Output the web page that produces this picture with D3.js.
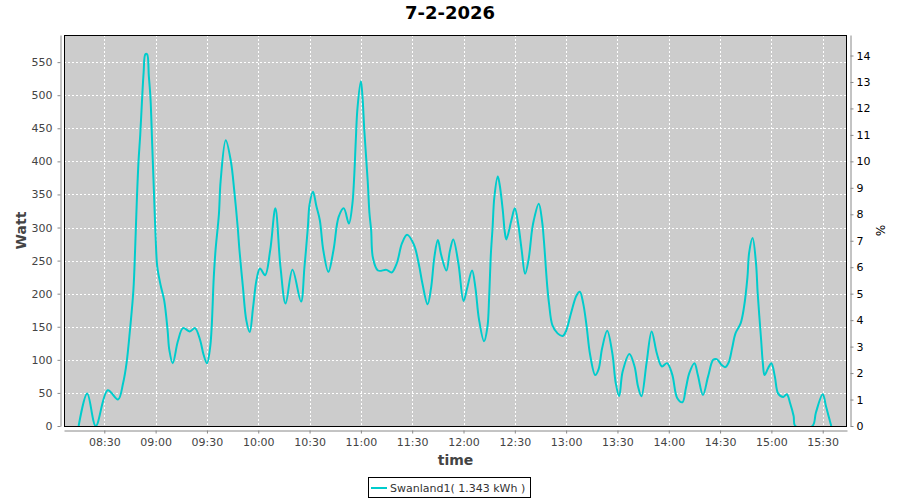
<!DOCTYPE html>
<html>
<head>
<meta charset="utf-8">
<script src="https://cdn.jsdelivr.net/npm/d3@7/dist/d3.min.js"></script>
<style>
  html, body { margin: 0; padding: 0; background: #ffffff; }
  svg { display: block; font-family: "DejaVu Sans", sans-serif; }
</style>
</head>
<body>
<svg id="chart" width="900" height="500"></svg>
<script>
// ---- data ----
const chartTitle = "7-2-2026";
const seriesName = "Swanland1( 1.343 kWh )";
const times = [
  "08:15","08:20","08:25","08:32","08:38","08:41","08:43","08:45","08:47","08:48",
  "08:49","08:50","08:51","08:52","08:53","08:54","08:55","08:56","08:57","08:58",
  "08:59","09:00","09:01","09:03","09:05","09:07","09:08","09:10","09:13","09:16",
  "09:20","09:23","09:26","09:28","09:30","09:32","09:34","09:35","09:37","09:38",
  "09:41","09:44","09:46","09:48","09:49","09:51","09:53","09:55","09:57","09:59",
  "10:01","10:04","10:07","10:10","10:13","10:16","10:20","10:25","10:27","10:29",
  "10:30","10:32","10:34","10:36","10:38","10:41","10:44","10:47","10:50","10:53",
  "10:55","10:56","10:57","10:58","11:00","11:01","11:02","11:04","11:05","11:06",
  "11:07","11:10","11:15","11:18","11:21","11:24","11:27","11:31","11:34","11:36",
  "11:39","11:41","11:43","11:45","11:47","11:50","11:52","11:54","11:57","12:00",
  "12:02","12:05","12:07","12:09","12:12","12:14","12:15","12:16","12:17","12:18",
  "12:20","12:21","12:23","12:24","12:25","12:28","12:30","12:32","12:34","12:36",
  "12:38","12:40","12:41","12:44","12:46","12:47","12:49","12:50","12:52","12:55",
  "12:58","13:00","13:03","13:06","13:08","13:10","13:12","13:14","13:17","13:19",
  "13:21","13:24","13:27","13:29","13:31","13:33","13:37","13:40","13:42","13:44",
  "13:47","13:50","13:53","13:56","13:59","14:02","14:05","14:08","14:10","14:12",
  "14:15","14:17","14:20","14:23","14:26","14:28","14:31","14:33","14:35","14:37",
  "14:39","14:42","14:44","14:46","14:47","14:49","14:51","14:52","14:54","14:55",
  "14:56","14:58","15:00","15:02","15:04","15:07","15:09","15:11","15:13","15:14",
  "15:24","15:26","15:30","15:32","15:35"
];
const watts = [
  0,49,0,54,40,65,95,145,205,266,
  340,400,440,490,535,562,562,530,495,425,
  355,285,240,212,190,145,115,95,128,148,
  143,148,130,108,95,122,225,265,320,370,
  432,400,355,300,266,211,160,142,180,221,
  238,228,266,329,240,185,236,188,240,300,
  335,354,332,311,266,233,266,316,329,306,
  335,372,430,480,521,495,447,370,322,296,
  255,235,236,232,246,276,289,274,243,215,
  184,208,256,281,258,235,264,282,246,189,
  207,235,208,162,128,150,196,260,300,345,
  377,367,325,296,282,311,329,305,266,230,
  251,295,310,336,308,280,210,185,152,140,
  136,144,172,197,203,185,150,108,77,86,
  117,144,110,65,45,82,109,90,60,45,
  95,143,110,90,95,78,42,36,57,80,
  95,77,47,75,100,101,92,89,96,117,
  140,155,180,225,262,284,246,200,130,95,
  77,87,95,75,49,44,48,34,15,0,
  0,20,48,29,0
];
const wattTicks = [0,50,100,150,200,250,300,350,400,450,500,550];
const percentTicks = [0,1,2,3,4,5,6,7,8,9,10,11,12,13,14];
const timeTicks = ["08:30","09:00","09:30","10:00","10:30","11:00","11:30","12:00","12:30","13:00","13:30","14:00","14:30","15:00","15:30"];
const xStart = "08:06:26", xEnd = "15:44:12";
const wattMax = 591;
const wattPerPercent = 40;

// ---- helpers ----
function toDate(s) {
  const p = s.split(":").map(Number);
  return new Date(2026, 1, 7, p[0], p[1], p[2] || 0);
}
const data = times.map((t, i) => ({ t: toDate(t), v: watts[i] }));

// ---- layout ----
const svg = d3.select("#chart");
const L = 64, R = 847, T = 35, B = 426;

const x = d3.scaleTime().domain([toDate(xStart), toDate(xEnd)]).range([L, R]);
const y = d3.scaleLinear().domain([0, wattMax]).range([B, T]);
const y2 = d3.scaleLinear().domain([0, wattMax / wattPerPercent]).range([B, T]);

// plot background
svg.append("rect").attr("x", L).attr("y", T).attr("width", R - L).attr("height", B - T)
  .attr("fill", "#cccccc");

// gridlines
const grid = svg.append("g").attr("stroke", "#ffffff").attr("stroke-width", 1)
  .attr("stroke-dasharray", "2,2").attr("shape-rendering", "crispEdges");
grid.selectAll("line.h").data(wattTicks.filter(d => d > 0)).join("line")
  .attr("x1", L).attr("x2", R)
  .attr("y1", d => Math.round(y(d)) + 0.5).attr("y2", d => Math.round(y(d)) + 0.5);
grid.selectAll("line.v").data(timeTicks.map(toDate)).join("line")
  .attr("y1", T).attr("y2", B)
  .attr("x1", d => Math.round(x(d)) + 0.5).attr("x2", d => Math.round(x(d)) + 0.5);

// clip
svg.append("clipPath").attr("id", "clip").append("rect")
  .attr("x", L).attr("y", T).attr("width", R - L).attr("height", B - T);

// series line
const line = d3.line().x(d => x(d.t)).y(d => y(d.v)).curve(d3.curveCatmullRom.alpha(0.5));
svg.append("path").datum(data).attr("clip-path", "url(#clip)")
  .attr("fill", "none").attr("stroke", "#00cccc").attr("stroke-width", 2)
  .attr("stroke-linejoin", "round").attr("d", line);

// plot border
svg.append("rect").attr("x", L + 0.5).attr("y", T + 0.5).attr("width", R - L - 1).attr("height", B - T)
  .attr("fill", "none").attr("stroke", "#000000").attr("stroke-width", 1);

// axes
function styleAxis(g, color) {
  g.select(".domain").attr("stroke", "#888888");
  g.selectAll(".tick line").attr("stroke", "#888888");
  g.selectAll(".tick text").attr("fill", color)
    .style("font-family", "DejaVu Sans, sans-serif").style("font-size", "11px");
}

const gy = svg.append("g").attr("transform", "translate(60.5,0)")
  .call(d3.axisLeft(y).tickValues(wattTicks).tickSize(3).tickSizeOuter(0).tickPadding(5).tickFormat(d3.format("d")));
styleAxis(gy, "#444444");

const gy2 = svg.append("g").attr("transform", "translate(850.5,0)")
  .call(d3.axisRight(y2).tickValues(percentTicks).tickSize(3).tickSizeOuter(0).tickPadding(3).tickFormat(d3.format("d")));
styleAxis(gy2, "#000000");

const gx = svg.append("g").attr("transform", "translate(0,430.5)")
  .call(d3.axisBottom(x).tickValues(timeTicks.map(toDate)).tickSize(3).tickSizeOuter(0).tickPadding(5)
    .tickFormat(d3.timeFormat("%H:%M")));
styleAxis(gx, "#444444");

// axis labels
svg.append("text").attr("transform", `translate(26,${(T + B) / 2}) rotate(-90)`)
  .attr("text-anchor", "middle").attr("fill", "#444444")
  .style("font-size", "14px").style("font-weight", "bold").text("Watt");
svg.append("text").attr("transform", `translate(876,${(T + B) / 2}) rotate(90)`)
  .attr("text-anchor", "middle").attr("fill", "#000000")
  .style("font-size", "12px").text("%");
svg.append("text").attr("x", (L + R) / 2).attr("y", 465)
  .attr("text-anchor", "middle").attr("fill", "#444444")
  .style("font-size", "14px").style("font-weight", "bold").text("time");

// title
svg.append("text").attr("x", 450).attr("y", 19).attr("text-anchor", "middle")
  .attr("fill", "#000000").style("font-size", "18px").style("font-weight", "bold").text(chartTitle);

// legend
const lg = svg.append("g");
lg.append("rect").attr("x", 368.5).attr("y", 477.5).attr("width", 162).attr("height", 20)
  .attr("fill", "#ffffff").attr("stroke", "#000000");
lg.append("line").attr("x1", 371).attr("x2", 387).attr("y1", 488).attr("y2", 488)
  .attr("stroke", "#00cccc").attr("stroke-width", 2);
lg.append("text").attr("x", 390).attr("y", 492).attr("fill", "#333333")
  .style("font-size", "11px").text(seriesName);
</script>
</body>
</html>
